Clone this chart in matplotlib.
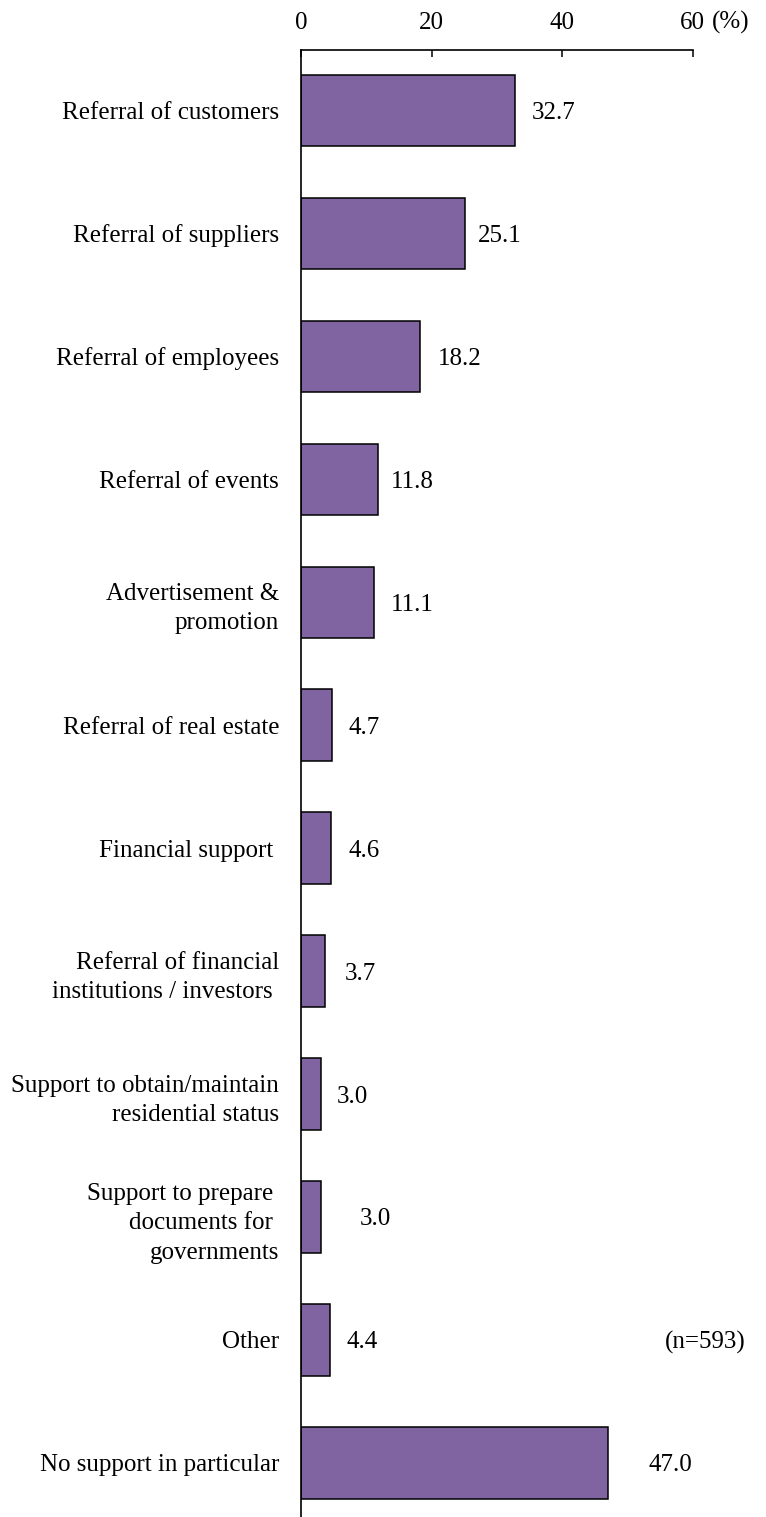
import numpy as np
import matplotlib.pyplot as plt

categories = [
    'Referral of customers',
    'Referral of suppliers',
    'Referral of employees',
    'Referral of events',
    'Advertisement &\npromotion',
    'Referral of real estate',
    'Financial support ',
    'Referral of financial\ninstitutions / investors ',
    'Support to obtain/maintain\nresidential status',
    'Support to prepare \ndocuments for \ngovernments',
    'Other',
    'No support in particular',
]
values = [32.7, 25.1, 18.2, 11.8, 11.1, 4.7, 4.6, 3.7, 3.0, 3.0, 4.4, 47.0]
# gap between bar end and its value label, in axis units
label_pad = [2.6, 2.0, 2.8, 2.0, 2.7, 2.5, 2.6, 3.0, 2.5, 6.0, 2.5, 6.3]
xticks = [0, 20, 40, 60]
sample_note = '(n=593)'

plt.rcParams['font.family'] = ['Liberation Serif', 'DejaVu Serif']
fs = 18

fig = plt.figure(figsize=(7.66, 15.17), dpi=100)
ax = fig.add_axes([0.3933, 0.0, 0.511, 0.967])

y = np.arange(len(categories))
ax.barh(y, values, height=0.58, color='#8064A2', edgecolor='black', linewidth=1.1)

ax.set_xlim(0, 60)
ax.set_ylim(11.44, -0.49)

ax.xaxis.tick_top()
ax.set_xticks(xticks)
ax.set_xticklabels([str(t) for t in xticks], fontsize=fs)
ax.tick_params(axis='x', direction='in', length=5, width=1.1, pad=11.5)

ax.set_yticks(y)
ax.set_yticklabels(categories, fontsize=fs, ha='right', linespacing=1.45)
ax.tick_params(axis='y', length=0, pad=16)

for s in ['right', 'bottom']:
    ax.spines[s].set_visible(False)
for s in ['top', 'left']:
    ax.spines[s].set_linewidth(1.2)

for i, (v, p) in enumerate(zip(values, label_pad)):
    ax.text(v + p, i, f'{v:.1f}', va='center_baseline', ha='left', fontsize=fs)

# unit marker next to the last tick label
ax.annotate('(%)', xy=(1, 1), xycoords='axes fraction', xytext=(14, 11.5),
            textcoords='offset points', fontsize=fs, ha='left', va='bottom')
ax.text(62.0, 10, sample_note, va='center_baseline', ha='center', fontsize=fs)

fig.savefig('out.png', dpi=100)
